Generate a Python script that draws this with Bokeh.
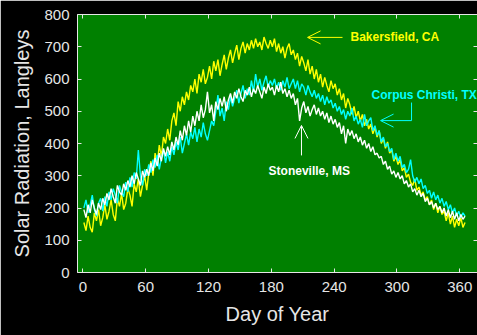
from bokeh.plotting import figure
from bokeh.models import Range1d, LinearAxis, FixedTicker, Label, Arrow, OpenHead
from bokeh.embed import file_html
from bokeh.resources import INLINE

# ---- data (every second day) ----
days = list(range(1, 366, 2))

bakersfield = [
    155, 130, 175, 140, 125, 185, 160, 195, 145, 170,
    210, 165, 190, 225, 180, 160, 230, 205, 245, 195,
    215, 260, 240, 205, 275, 250, 290, 235, 270, 300,
    255, 310, 345, 300, 370, 335, 395, 360, 420, 400,
    445, 410, 470, 495, 455, 530, 500, 545, 520, 560,
    535, 580, 560, 600, 555, 615, 590, 630, 585, 605,
    640, 600, 655, 625, 660, 610, 645, 675, 630, 665,
    690, 650, 680, 705, 660, 695, 715, 680, 710, 690,
    720, 695, 725, 700, 715, 690, 730, 710, 695, 720,
    700, 725, 685, 710, 680, 700, 665, 695, 710, 675,
    690, 660, 680, 640, 670, 650, 625, 660, 615, 640,
    600, 630, 590, 615, 575, 605, 580, 560, 595, 570,
    585, 550, 570, 535, 555, 510, 540, 520, 490, 515,
    480, 500, 470, 490, 455, 475, 445, 460, 430, 450,
    420, 440, 400, 415, 385, 405, 370, 380, 345, 360,
    335, 350, 315, 325, 295, 305, 280, 270, 290, 255,
    265, 240, 250, 225, 235, 210, 225, 195, 215, 185,
    205, 180, 190, 160, 185, 150, 175, 140, 165, 145,
    170, 140, 155,
]

corpus_christi = [
    200, 225, 185, 210, 240, 195, 175, 215, 230, 190,
    235, 205, 250, 225, 260, 240, 215, 270, 250, 235,
    280, 250, 295, 265, 310, 290, 380, 300, 270, 320,
    300, 335, 310, 350, 325, 365, 320, 355, 380, 340,
    375, 345, 390, 365, 405, 380, 420, 370, 400, 430,
    395, 435, 415, 450, 405, 445, 420, 465, 430, 410,
    440, 470, 455, 500, 550, 485, 510, 470, 530, 505,
    545, 515, 540, 565, 525, 555, 580, 540, 570, 550,
    595, 560, 615, 575, 600, 565, 590, 610, 575, 595,
    580, 600, 570, 590, 565, 595, 575, 605, 570, 585,
    600, 570, 595, 560, 585, 575, 550, 580, 560, 545,
    565, 540, 555, 530, 550, 520, 545, 525, 535, 510,
    525, 500, 515, 490, 505, 475, 500, 485, 510, 470,
    485, 460, 475, 450, 490, 455, 470, 480, 440, 455,
    425, 440, 405, 420, 390, 400, 375, 385, 350, 370,
    345, 360, 325, 335, 310, 320, 350, 300, 280, 295,
    275, 290, 260, 270, 245, 255, 230, 250, 225, 240,
    215, 230, 205, 220, 195, 210, 185, 200, 175, 190,
    170, 185, 175,
]

stoneville = [
    195, 170, 210, 185, 225, 200, 180, 215, 195, 230,
    210, 245, 225, 260, 235, 215, 270, 250, 240, 275,
    255, 285, 265, 300, 275, 310, 290, 270, 315, 295,
    320, 300, 340, 315, 355, 330, 370, 345, 385, 360,
    390, 365, 405, 380, 420, 395, 440, 410, 455, 425,
    470, 435, 485, 455, 500, 470, 520, 480, 505, 560,
    495, 520, 470, 530, 505, 540, 515, 545, 500, 535,
    555, 525, 560, 540, 570, 545, 530, 565, 550, 575,
    545, 570, 555, 580, 560, 540, 575, 555, 585, 565,
    575, 550, 580, 560, 590, 555, 570, 545, 565, 540,
    555, 520, 540, 470, 510, 530, 495, 515, 485, 505,
    520, 490, 510, 485, 500, 475, 495, 465, 485, 460,
    475, 450, 465, 430, 455, 400, 445, 425, 440, 415,
    430, 405, 420, 395, 410, 385, 400, 375, 390, 365,
    370, 355, 360, 335, 345, 320, 330, 305, 315, 295,
    310, 290, 300, 275, 285, 265, 275, 250, 260, 240,
    255, 235, 245, 220, 230, 210, 220, 200, 215, 195,
    205, 185, 200, 175, 195, 170, 190, 165, 185, 160,
    180, 165, 175,
]

x_ticks = [0, 60, 120, 180, 240, 300, 360]
y_ticks = [0, 100, 200, 300, 400, 500, 600, 700, 800]

FG = "#e6e6e6"
FONT = "Liberation Sans"

p = figure(width=477, height=335, output_backend="svg", toolbar_location=None,
           x_range=Range1d(-5.1, 376.9), y_range=Range1d(0, 800),
           background_fill_color="#008000", border_fill_color="black",
           min_border_left=77, min_border_right=0, min_border_top=14,
           min_border_bottom=63, outline_line_color=None)
p.grid.visible = False


def style(ax, ticks, labels=True):
    ax.ticker = FixedTicker(ticks=ticks)
    ax.major_tick_in = 4
    ax.major_tick_out = 0
    ax.minor_tick_in = 0
    ax.minor_tick_out = 0
    ax.axis_line_color = FG
    ax.axis_line_width = 1
    ax.major_tick_line_color = FG
    ax.major_label_text_font = FONT
    if labels:
        ax.major_label_text_color = FG
        ax.major_label_text_font_size = "15px"
    else:
        ax.major_label_text_color = None
        ax.major_label_text_font_size = "1px"
        ax.major_label_standoff = 0


xa = p.xaxis[0]
ya = p.yaxis[0]
style(xa, x_ticks)
style(ya, y_ticks)
xa.major_label_standoff = 9
ya.major_label_standoff = 8
xa.axis_label = "Day of Year"
ya.axis_label = "Solar Radiation, Langleys"
for ax in (xa, ya):
    ax.axis_label_text_font = FONT
    ax.axis_label_text_font_size = "20px"
    ax.axis_label_text_font_style = "normal"
    ax.axis_label_text_color = FG
xa.axis_label_standoff = 8
ya.axis_label_standoff = 8

top = LinearAxis()
style(top, x_ticks, labels=False)
p.add_layout(top, "above")
right = LinearAxis()
style(right, y_ticks, labels=False)
right.axis_line_color = None
p.add_layout(right, "right")

p.line(days, bakersfield, line_color="#ffff00", line_width=1.4)
p.line(days, corpus_christi, line_color="#00ffff", line_width=1.4)
p.line(days, stoneville, line_color="#ffffff", line_width=1.4)


# ---- annotations ----
def label(x, y, txt, color):
    p.add_layout(Label(x=x, y=y, text=txt, text_color=color, text_font=FONT,
                       text_font_size="12px", text_font_style="bold",
                       text_baseline="middle", text_align="left"))


def arrow(x0, y0, x1, y1, color):
    p.add_layout(Arrow(end=OpenHead(size=13, line_color=color, line_width=1),
                       x_start=x0, y_start=y0, x_end=x1, y_end=y1,
                       line_color=color, line_width=1))


label(255.6, 729, "Bakersfield, CA", "#ffff00")
arrow(248, 729, 214.6, 729, "#ffff00")

label(275.7, 549, "Corpus Christi, TX", "#00ffff")
p.segment(x0=[313.9], y0=[527], x1=[313.9], y1=[471], line_color="#00ffff", line_width=1)
arrow(313.9, 471, 284.3, 471, "#00ffff")

label(177.4, 316, "Stoneville, MS", "#ffffff")
arrow(208.8, 363, 208.8, 456, "#ffffff")

open("out.html", "w").write(file_html(p, INLINE))
